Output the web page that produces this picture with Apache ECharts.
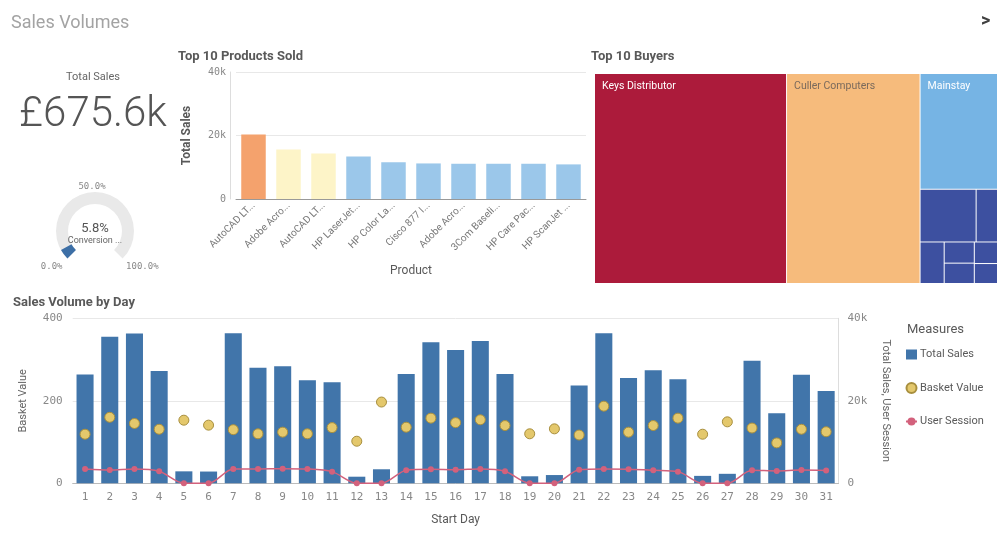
<!DOCTYPE html>
<html>
<head>
<meta charset="utf-8">
<title>Sales Volumes</title>
<script src="https://cdn.jsdelivr.net/npm/echarts@6/dist/echarts.min.js"></script>
<style>
    html, body {
        margin: 0;
        padding: 0;
        background: #fff;
    }

    #main {
        width: 1005px;
        height: 535px;
    }
</style>
</head>
<body>
<div id="main"></div>
<script type="text/javascript">
    // KPI
    var totalSalesK = 675.6;
    var conversionRate = [5.8];
    var gaugeName = 'Conversion ...';

    // Top 10 Products Sold
    var products = ['AutoCAD LT...', 'Adobe Acro...', 'AutoCAD LT...', 'HP LaserJet...', 'HP Color La...',
        'Cisco 877 I...', 'Adobe Acro...', '3Com Baseli...', 'HP Care Pac...', 'HP ScanJet ...'];
    var productSales = [20300, 15600, 14300, 13400, 11600, 11200, 11100, 11100, 11100, 10900];
    var productColors = ['#f4a26d', '#fdf4c8', '#fdf4c8', '#9bc7ea', '#9bc7ea',
        '#9bc7ea', '#9bc7ea', '#9bc7ea', '#9bc7ea', '#9bc7ea'];

    // Top 10 Buyers (k)
    var buyers = ['Keys Distributor', 'Culler Computers', 'Mainstay', 'Buyer 4', 'Buyer 5',
        'Buyer 6', 'Buyer 7', 'Buyer 8', 'Buyer 9', 'Buyer 10'];
    var buyerSales = [322.2, 224.0, 71.6, 23.6, 9.0, 8.0, 5.1, 4.9, 4.0, 3.7];
    var buyerColors = ['#ac1b3b', '#f6bb7c', '#76b4e4', '#3d50a0', '#3d50a0',
        '#3d50a0', '#3d50a0', '#3d50a0', '#3d50a0', '#3d50a0'];
    var buyerLabelColors = ['#ffffff', '#7a6a5c', '#ffffff'];

    // Sales Volume by Day
    var days = ['1', '2', '3', '4', '5', '6', '7', '8', '9', '10', '11', '12', '13', '14', '15', '16',
        '17', '18', '19', '20', '21', '22', '23', '24', '25', '26', '27', '28', '29', '30', '31'];
    var totalSales = [26400, 35500, 36300, 27200, 2900, 2850, 36400, 28000, 28400, 25000, 24500,
        1600, 3400, 26500, 34200, 32300, 34500, 26500, 1700, 2000, 23700, 36400, 25500, 27400,
        25200, 1800, 2300, 29700, 17000, 26300, 22400];
    var basketValue = [119, 160, 145, 131, 153, 141, 130, 120, 124, 120, 135, 102, 197, 136, 158,
        147, 154, 140, 120, 132, 117, 187, 124, 140, 158, 119, 149, 134, 98, 131, 125];
    var userSession = [3470, 3200, 3470, 2900, 0, 0, 3470, 3470, 3550, 3470, 2830, 0, 0, 3150, 3400,
        3300, 3470, 2900, 0, 0, 3300, 3470, 3400, 3150, 2830, 0, 0, 3150, 3000, 3200, 3100];

    var mono = 'DejaVu Sans Mono';
    var kFmt = function (v) {
        return v === 0 ? '0' : (v / 1000) + 'k';
    };

    var buyerData = [];
    for (var i = 0; i < buyers.length; i++) {
        buyerData.push({
            name: buyers[i],
            value: buyerSales[i],
            itemStyle: {color: buyerColors[i]},
            label: {show: i < 3, color: buyerLabelColors[i] || '#fff'}
        });
    }

    var dom = document.getElementById('main');
    var myChart = echarts.init(dom);
    var option = {
        animation: false,
        backgroundColor: '#fff',
        textStyle: {fontFamily: 'Roboto'},
        title: [
            {text: 'Sales Volumes', left: 11, top: 14, padding: 0, textStyle: {fontSize: 18, fontWeight: 'normal', color: '#a3a3a3'}},
            {text: '>', left: 981, top: 12, padding: 0, textStyle: {fontSize: 18, fontWeight: 'bold', color: '#404040'}},
            {text: 'Total Sales', left: 93, top: 72, padding: 0, textAlign: 'center', textStyle: {fontSize: 11, fontWeight: 'normal', color: '#666'}},
            {
                text: '£' + totalSalesK.toFixed(1) + 'k', left: 93, top: 94, padding: 0, textAlign: 'center',
                textStyle: {fontSize: 42, fontWeight: 300, color: '#555'}
            },
            {text: 'Top 10 Products Sold', left: 178, top: 50, padding: 0, textStyle: {fontSize: 13, fontWeight: 'bold', color: '#595959'}},
            {text: 'Top 10 Buyers', left: 591, top: 50, padding: 0, textStyle: {fontSize: 13, fontWeight: 'bold', color: '#595959'}},
            {text: 'Sales Volume by Day', left: 13, top: 296, padding: 0, textStyle: {fontSize: 13, fontWeight: 'bold', color: '#595959'}},
            {text: 'Measures', left: 907, top: 323, padding: 0, textStyle: {fontSize: 13, fontWeight: 'normal', color: '#595959'}}
        ],
        legend: {
            orient: 'vertical',
            left: 905,
            top: 349,
            padding: 0,
            itemWidth: 11,
            itemHeight: 10,
            itemGap: 22,
            textStyle: {fontSize: 11, color: '#595959', padding: [0, 0, 0, -2]},
            data: [
                {name: 'Total Sales', icon: 'rect'},
                {name: 'Basket Value', icon: 'circle'},
                'User Session'
            ]
        },
        grid: [
            {left: 236, top: 72, width: 350, height: 127},
            {left: 72.7, top: 318.3, width: 765.8, height: 165}
        ],
        xAxis: [
            {
                type: 'category', gridIndex: 0, data: products,
                name: 'Product', nameLocation: 'middle', nameGap: 66,
                nameTextStyle: {fontSize: 12, color: '#595959'},
                axisLine: {lineStyle: {color: '#999'}},
                axisTick: {show: false},
                axisLabel: {interval: 0, rotate: 45, margin: 5, fontSize: 10, color: '#777'}
            },
            {
                type: 'category', gridIndex: 1, data: days,
                name: 'Start Day', nameLocation: 'middle', nameGap: 31,
                nameTextStyle: {fontSize: 12, color: '#595959'},
                axisLine: {lineStyle: {color: '#bbb'}},
                axisTick: {show: false},
                axisLabel: {interval: 0, margin: 8, fontSize: 11, color: '#888', fontFamily: mono}
            }
        ],
        yAxis: [
            {
                type: 'value', gridIndex: 0, min: 0, max: 40000, interval: 20000, offset: 6,
                name: 'Total Sales', nameLocation: 'middle', nameGap: 37,
                nameTextStyle: {fontSize: 12, fontWeight: 'bold', color: '#595959'},
                axisLine: {show: true, lineStyle: {color: '#ddd'}},
                splitLine: {lineStyle: {color: '#e8e8e8'}},
                axisLabel: {formatter: kFmt, margin: 4, fontSize: 10, color: '#888', fontFamily: mono}
            },
            {
                type: 'value', gridIndex: 1, min: 0, max: 400, interval: 200,
                name: 'Basket Value', nameLocation: 'middle', nameGap: 44,
                nameTextStyle: {fontSize: 11, color: '#666'},
                axisLine: {show: false},
                splitLine: {lineStyle: {color: '#e8e8e8'}},
                axisLabel: {margin: 10, fontSize: 11, color: '#888', fontFamily: mono}
            },
            {
                type: 'value', gridIndex: 1, position: 'right', min: 0, max: 40000, interval: 20000,
                name: 'Total Sales, User Session', nameLocation: 'middle', nameGap: 42, nameRotate: -90,
                nameTextStyle: {fontSize: 11, color: '#666'},
                axisLine: {show: true, lineStyle: {color: '#ddd'}},
                splitLine: {show: false},
                axisLabel: {formatter: kFmt, margin: 9, fontSize: 11, color: '#888', fontFamily: mono}
            }
        ],
        series: [
            {
                name: 'Conversion',
                type: 'gauge',
                center: [95, 231],
                radius: 39,
                startAngle: 225,
                endAngle: -45,
                min: 0,
                max: 100,
                splitNumber: 2,
                axisLine: {lineStyle: {width: 12, color: [[1, '#e9e9e9']]}},
                progress: {show: true, width: 12, itemStyle: {color: '#3d6fa6'}},
                pointer: {show: false},
                anchor: {show: false},
                axisTick: {show: false},
                splitLine: {show: false, length: 0, distance: 0},
                axisLabel: {
                    distance: -11,
                    rotate: 0.01,
                    formatter: function (v) {
                        var key = v <= 0 ? 'l' : (v >= 100 ? 'r' : 't');
                        return '{' + key + '|' + v.toFixed(1) + '%}';
                    },
                    rich: {
                        l: {padding: [0, 16, 0, 0], fontSize: 9, color: '#888', fontFamily: mono},
                        r: {padding: [0, 0, 0, 24], fontSize: 9, color: '#888', fontFamily: mono},
                        t: {padding: [12, 6, 0, 0], fontSize: 9, color: '#888', fontFamily: mono}
                    }
                },
                title: {offsetCenter: [0, 10], fontSize: 9, color: '#666'},
                detail: {
                    offsetCenter: [0, -2], fontSize: 13, color: '#555', fontWeight: 'normal',
                    formatter: function (v) {
                        return v.toFixed(1) + '%';
                    }
                },
                data: [{value: conversionRate[0], name: gaugeName}]
            },
            {
                name: 'Top Products',
                type: 'bar',
                xAxisIndex: 0,
                yAxisIndex: 0,
                barCategoryGap: '30%',
                data: productSales.map(function (v, i) {
                    return {value: v, itemStyle: {color: productColors[i]}};
                })
            },
            {
                name: 'Top Buyers',
                type: 'treemap',
                left: 595,
                top: 74,
                width: 402,
                height: 209,
                roam: false,
                nodeClick: false,
                squareRatio: 1.145,
                breadcrumb: {show: false},
                itemStyle: {gapWidth: 1, borderWidth: 0, borderColor: '#fff'},
                label: {position: 'insideTopLeft', distance: 2, fontSize: 10.5},
                data: buyerData
            },
            {
                name: 'Total Sales',
                type: 'bar',
                xAxisIndex: 1,
                yAxisIndex: 2,
                barCategoryGap: '31%',
                itemStyle: {color: '#4175aa'},
                data: totalSales
            },
            {
                name: 'Basket Value',
                type: 'scatter',
                xAxisIndex: 1,
                yAxisIndex: 1,
                symbolSize: 10,
                z: 4,
                itemStyle: {color: '#e4c86c', borderColor: '#a88f3e', borderWidth: 1, opacity: 1},
                data: basketValue
            },
            {
                name: 'User Session',
                type: 'line',
                xAxisIndex: 1,
                yAxisIndex: 2,
                smooth: 0.3,
                symbol: 'circle',
                symbolSize: 6,
                z: 3,
                lineStyle: {color: '#d3617c', width: 1.5},
                itemStyle: {color: '#d3617c'},
                data: userSession
            }
        ]
    };
    myChart.setOption(option);
</script>
</body>
</html>
